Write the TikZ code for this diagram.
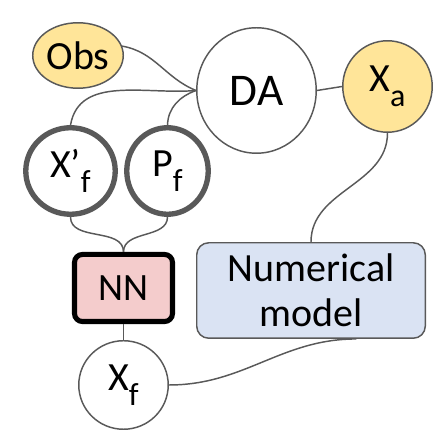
\documentclass[tikz,border=0pt]{standalone}
\usepackage{fontspec}
\setmainfont{Carlito}
\usetikzlibrary{shapes.geometric}

\definecolor{obsyellow}{HTML}{FFE599}
\definecolor{nnpink}{HTML}{F4CCCC}
\definecolor{modelblue}{HTML}{DAE3F3}
\definecolor{edgegray}{HTML}{595959}

\newcommand{\lowsub}[1]{\raisebox{-11pt}{\fontsize{24}{28}\selectfont #1}}

\tikzset{
    blob/.style={ellipse, draw=edgegray, line width=1.1pt, fill=white, inner sep=0pt,
        font=\fontsize{30}{36}\selectfont},
    heavyblob/.style={blob, line width=4pt},
    link/.style={draw=edgegray, line width=1.1pt},
}

\begin{document}
\begin{tikzpicture}[x=0.75pt, y=0.75pt]
    \useasboundingbox (0,0) rectangle (433,431);

    %nodes
    \node[blob, fill=obsyellow, minimum width=67.9pt, minimum height=49.1pt] (obs) at (78,375.5) {Obs};
    \node[blob, minimum width=89.6pt, minimum height=94.1pt, font=\fontsize{34}{40}\selectfont] (da) at (256.5,340.5) {DA};
    \node[blob, fill=obsyellow, minimum width=67.1pt, minimum height=68.6pt] (xa) at (387.5,344.5) {X\lowsub{a}};
    \node[heavyblob, minimum width=67.1pt, minimum height=64.9pt] (xpf) at (70.5,260) {X’\lowsub{f}};
    \node[heavyblob, minimum width=61.1pt, minimum height=64.9pt] (pf) at (167.5,260) {P\lowsub{f}};
    \node[draw=black, line width=3.8pt, fill=nnpink, rounded corners=6pt, inner sep=0pt,
        minimum width=73.5pt, minimum height=50.3pt, font=\fontsize{29}{34}\selectfont] (nn) at (123.5,143) {NN};
    \node[draw=edgegray, line width=1.1pt, fill=modelblue, rounded corners=9pt, inner sep=0pt,
        minimum width=171.4pt, minimum height=71.6pt, align=center,
        font=\fontsize{30}{34}\selectfont] (model) at (311,140.5) {Numerical\\model};
    \node[blob, minimum width=67.1pt, minimum height=66.4pt] (xf) at (123.5,46) {X\lowsub{f}};

    %links into DA
    \draw[link] (obs.12) to[out=-10, in=158] (da.west);
    \draw[link] (xpf.north) to[out=80, in=185] (da.west);
    \draw[link] (pf.north) to[out=88, in=200] (da.west);
    \draw[link] (da.east) -- (xa.west);

    %analysis to model, forecast loop
    \draw[link] (xa.south) to[out=-90, in=90] (model.north);
    \draw[link] (xpf.south) to[out=-90, in=90] (nn.north);
    \draw[link] (pf.south) to[out=-90, in=90] (nn.north);
    \draw[link] (nn.south) -- (xf.north);
    \draw[link] (xf.east) to[out=0, in=180] ([xshift=34]model.south);
\end{tikzpicture}
\end{document}
